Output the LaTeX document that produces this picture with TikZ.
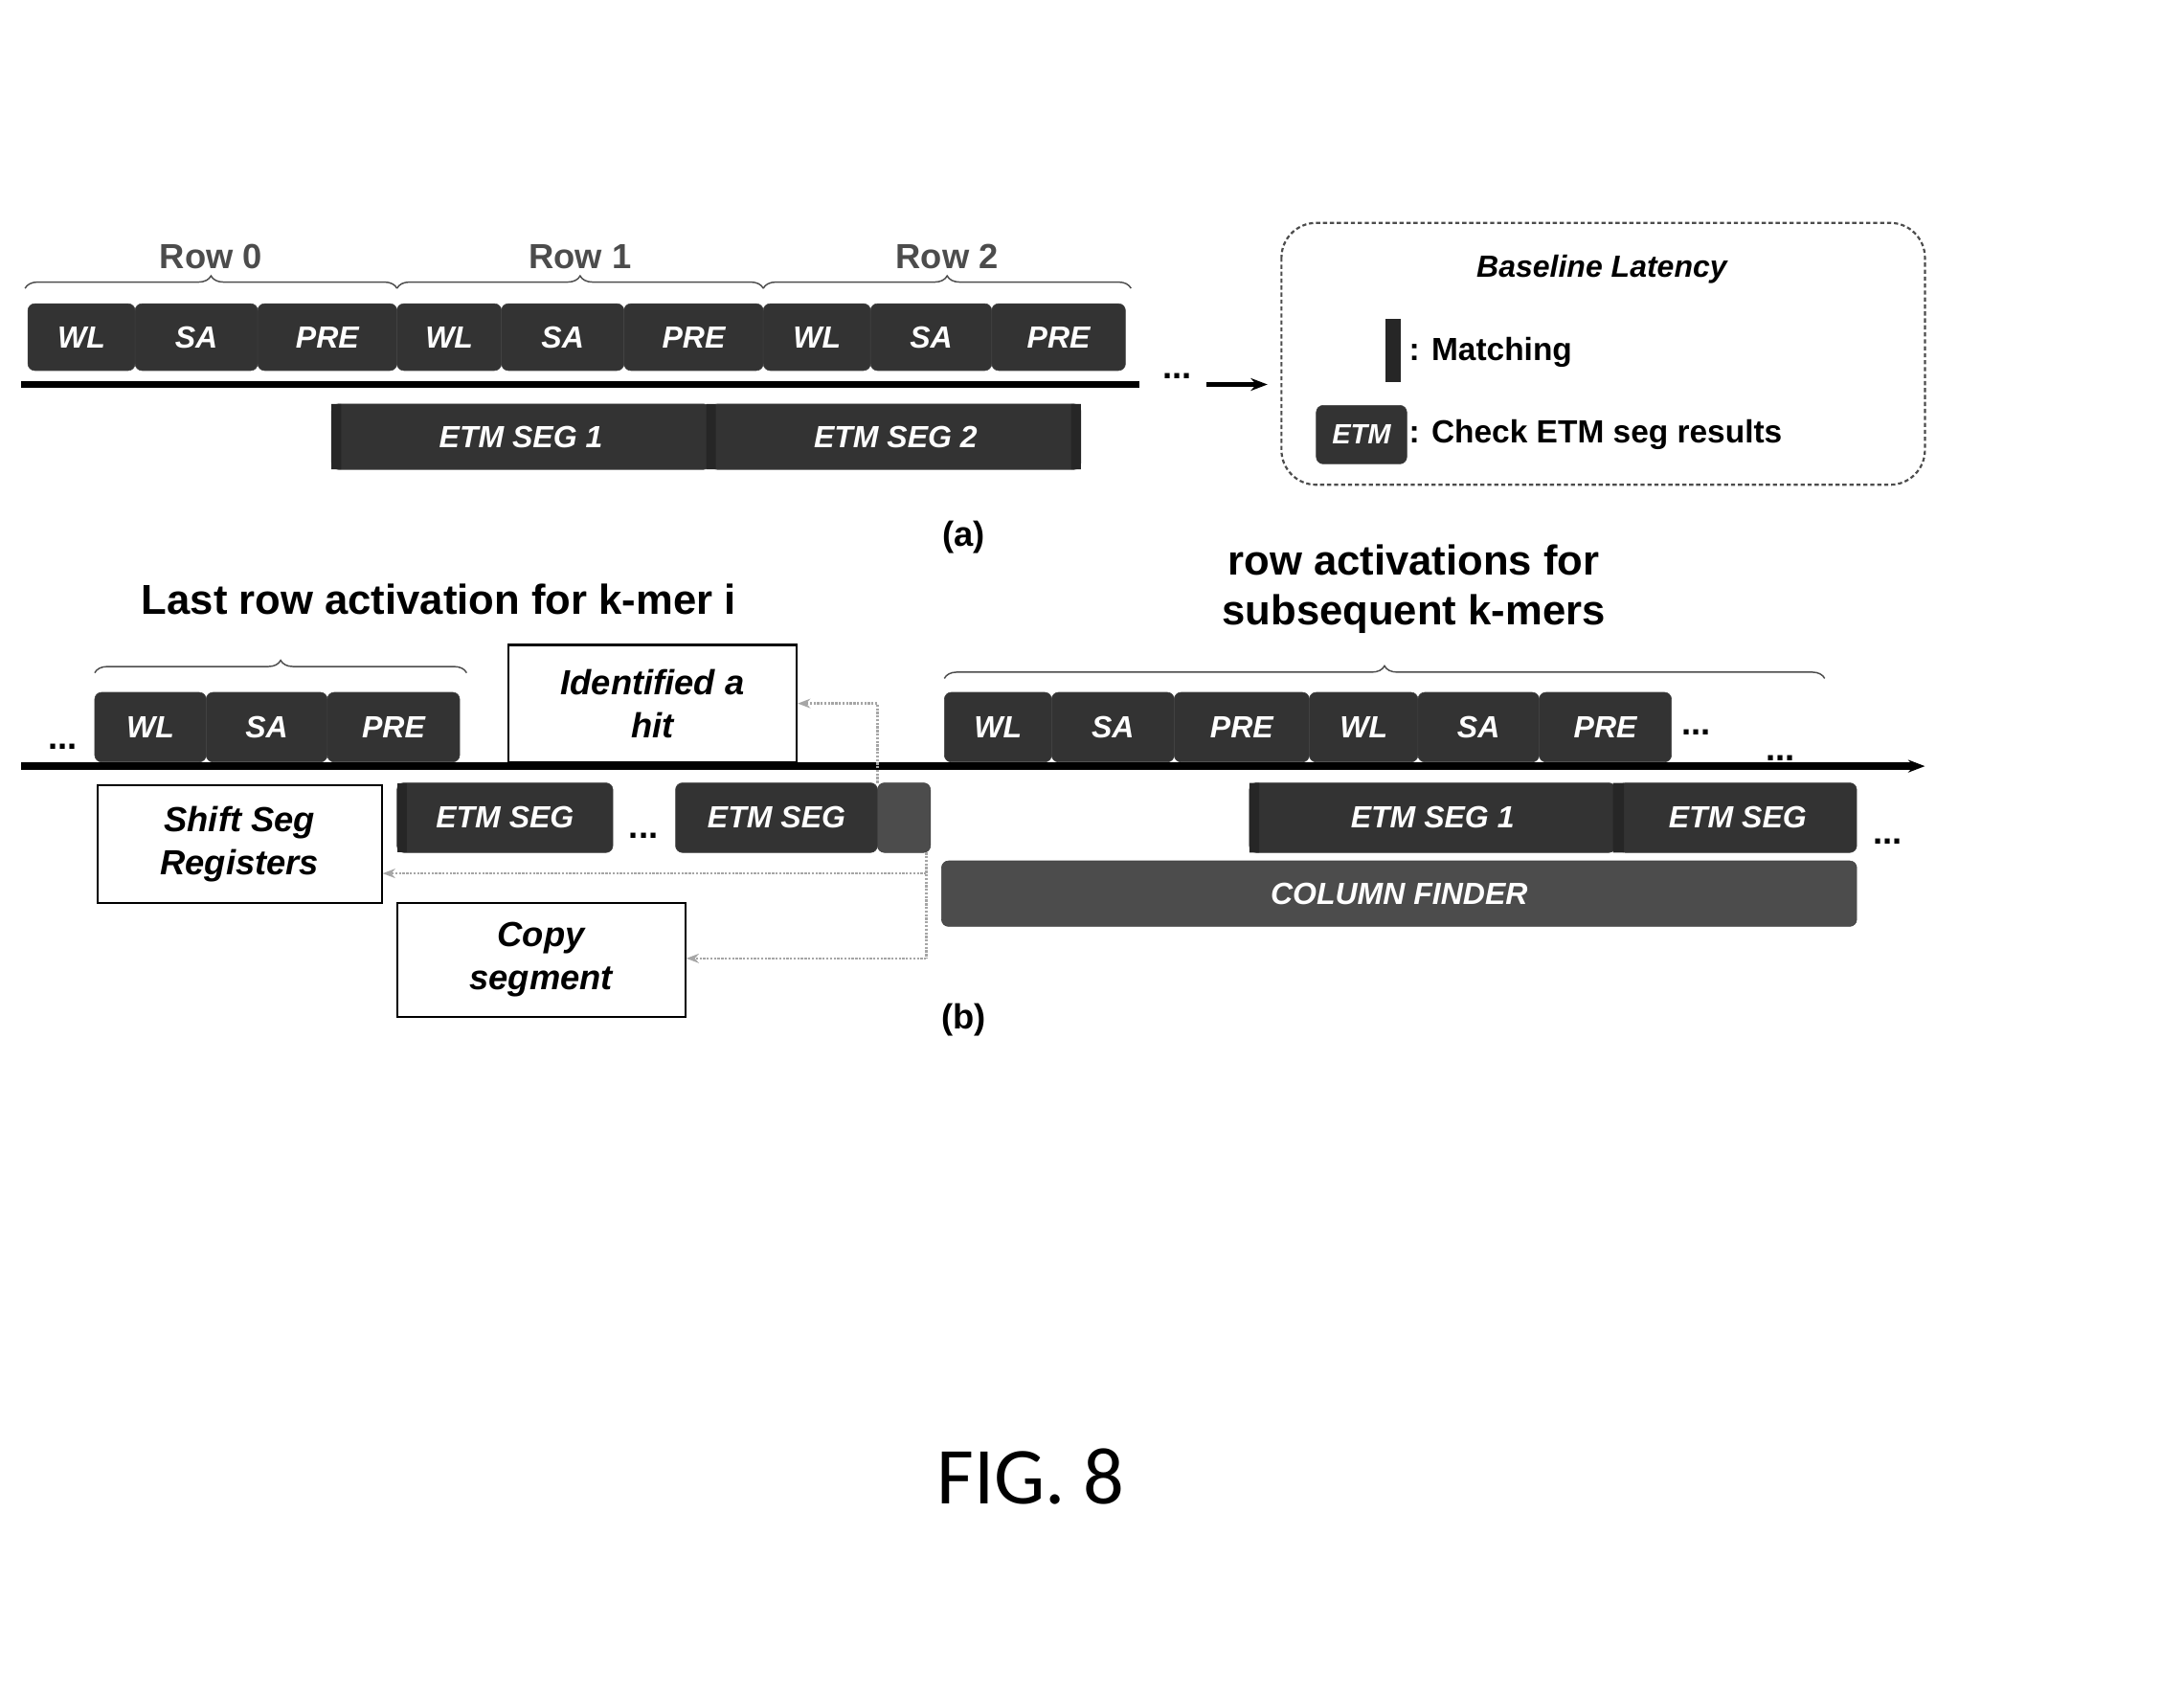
\documentclass[tikz,border=0pt]{standalone}
\usepackage{fontspec}
\setmainfont{Liberation Sans}
\newfontfamily\figfont{Carlito}
\usetikzlibrary{decorations.pathreplacing,arrows.meta}
\begin{document}
\begin{tikzpicture}[x=1pt,y=-1pt,
 blk/.style={draw=gray!50!black,fill=gray!40!black,rounded corners=5pt,text=white,font=\bfseries\itshape\fontsize{22}{24}\selectfont,inner sep=0pt},
 mid/.style={blk,fill=gray!60!black,draw=gray!50!black},
 bar/.style={fill=gray!30!black,draw=none},
 wbox/.style={draw=black,line width=1.5pt,fill=white,align=center,font=\bfseries\itshape\fontsize{25}{31}\selectfont,inner sep=0pt},
 br/.style={decorate,decoration={brace,amplitude=9pt},line width=1pt,gray!60!black},
 dsh/.style={densely dotted,line width=1.6pt,gray!70,-{Stealth[length=9pt]}},
 lbl/.style={font=\bfseries\fontsize{25}{30}\selectfont},
 big/.style={font=\bfseries\fontsize{30}{36}\selectfont,align=center}]
\useasboundingbox (0,0) rectangle (1568,1215);
\newcommand\bk[7][blk]{\node[#1,minimum width={(#5-#3)*1pt},minimum height={(#6-#4)*1pt}] (#2) at ({(#3+#5)/2},{(#4+#6)/2}) {#7};}
% ---------- (a)
\draw[br] (18,207) -- (285,207) node[midway,above=10pt,lbl] (r0) {Row 0};
\draw[br] (285,207) -- (548,207) node[midway,above=10pt,lbl] (r1) {Row 1};
\draw[br] (548,207) -- (812,207) node[midway,above=10pt,lbl] (r2) {Row 2};
\bk{a1}{20}{218}{97}{266}{WL}
\bk{a2}{97}{218}{185}{266}{SA}
\bk{a3}{185}{218}{285}{266}{PRE}
\bk{a4}{285}{218}{360}{266}{WL}
\bk{a5}{360}{218}{448}{266}{SA}
\bk{a6}{448}{218}{548}{266}{PRE}
\bk{a7}{548}{218}{625}{266}{WL}
\bk{a8}{625}{218}{712}{266}{SA}
\bk{a9}{712}{218}{808}{266}{PRE}
\coordinate (ta0) at (15,276); \coordinate (ta1) at (818,276);
\draw[line width=5pt] (ta0) -- (ta1);
\node[lbl] (adots) at (845,270) {...};
\coordinate (aa0) at (866,276); \coordinate (aa1) at (910,276);
\draw[line width=4pt,-{Stealth[length=12pt]}] (aa0) -- (aa1);
\bk{e1}{238}{290}{510}{337}{ETM SEG 1}
\bk{e2}{510}{290}{776}{337}{ETM SEG 2}
\fill[bar] (238,290) rectangle (245,337) (507,290) rectangle (514,337) (769,290) rectangle (776,337);
\draw[densely dashed,line width=1.5pt,gray!60!black,rounded corners=25pt] (920,160) rectangle (1382,348);
\node[font=\bfseries\itshape\fontsize{22}{26}\selectfont] (bl) at (1150,193) {Baseline Latency};
\fill[bar] (995,229) rectangle (1006,274);
\node[lbl,anchor=west,font=\bfseries\fontsize{23}{28}\selectfont] (m) at (1008,253) {: Matching};
\bk{etm}{945}{291}{1010}{333}{\fontsize{20}{22}\selectfont ETM}
\node[lbl,anchor=west,font=\bfseries\fontsize{23}{28}\selectfont] (c) at (1008,312) {: Check ETM seg results};
\node[lbl] (la) at (692,386) {(a)};
% ---------- (b)
\node[big] (lr) at (315,430) {Last row activation for k-mer i};
\node[big] (ra) at (1015,423) {row activations for\\subsequent k-mers};
\draw[br] (68,483) -- (335,483);
\draw[br] (678,487) -- (1310,487);
\node[lbl] (bd0) at (45,536) {...};
\bk{b1}{68}{497}{148}{547}{WL}
\bk{b2}{148}{497}{235}{547}{SA}
\bk{b3}{235}{497}{330}{547}{PRE}
\bk{c1}{678}{497}{755}{547}{WL}
\bk{c2}{755}{497}{843}{547}{SA}
\bk{c3}{843}{497}{940}{547}{PRE}
\bk{c4}{940}{497}{1018}{547}{WL}
\bk{c5}{1018}{497}{1105}{547}{SA}
\bk{c6}{1105}{497}{1200}{547}{PRE}
\node[lbl] (cd) at (1218,526) {...};
\node[wbox,minimum width=207pt,minimum height=84pt] (hit) at (468.5,505) {Identified a\\hit};
\coordinate (tb0) at (15,550); \coordinate (tb1) at (1382,550);
\draw[line width=5pt,-{Stealth[length=12pt]}] (tb0) -- (tb1);
\node[lbl] (td) at (1278,544) {...};
\bk{s1}{285}{562}{440}{612}{ETM SEG}
\fill[bar] (285,562) rectangle (292,612);
\node[lbl] (sd) at (462,600) {...};
\bk{s2}{485}{562}{630}{612}{ETM SEG}
\bk[mid]{mb}{630}{562}{668}{612}{}
\bk{s3}{897}{562}{1160}{612}{ETM SEG 1}
\bk{s4}{1162}{562}{1333}{612}{ETM SEG}
\fill[bar] (897,562) rectangle (904,612) (1158,562) rectangle (1166,612);
\node[lbl] (sd2) at (1355,604) {...};
\bk[mid]{cf}{676}{618}{1333}{665}{COLUMN FINDER}
\node[wbox,minimum width=204pt,minimum height=85pt] (sh) at (172,606) {Shift Seg\\Registers};
\node[wbox,minimum width=207pt,minimum height=82pt] (cp) at (388.5,689) {Copy\\segment};
\coordinate (h1) at (630,562); \coordinate (h2) at (630,505);
\draw[dsh] (h1) -- (h2) -- (hit.east);
\coordinate (v0) at (665,612); \coordinate (v1) at (665,627); \coordinate (v2) at (665,688);
\draw[densely dotted,line width=1.6pt,gray!70] (v0) -- (v2);
\draw[dsh] (v1) -- (sh.east|-v1);
\draw[dsh] (v2) -- (cp.east|-v2);
\node[lbl] (lb) at (692,732) {(b)};
\node[font=\figfont\fontsize{58}{64}\selectfont] (fig) at (740,1060) {FIG. 8};
\end{tikzpicture}
\end{document}
